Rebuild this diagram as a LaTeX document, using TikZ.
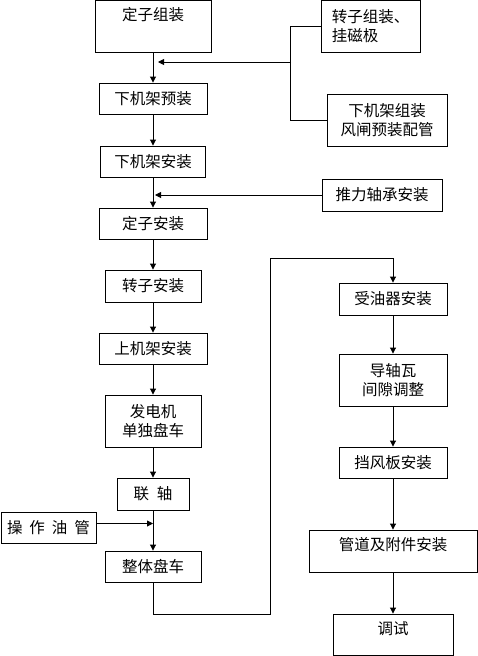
\documentclass[tikz,border=0pt]{standalone}
\usepackage{fontspec}
\newfontfamily\cjk{Noto Sans CJK SC}
\usetikzlibrary{arrows.meta,positioning}

\begin{document}
\begin{tikzpicture}[x=1pt,y=-1pt,
  box/.style={draw,line width=0.9pt,inner sep=0pt,align=center,
    font=\cjk\fontsize{15.5}{19}\selectfont},
  link/.style={line width=0.9pt},
  arr/.style={link,-{Triangle[length=6pt,width=6pt]}}]
  \useasboundingbox (0,0) rectangle (477,656);
  % left column
  \node[box,minimum width=116pt,minimum height=52pt,text depth=24pt] (s1) at (153,26) {定子组装};
  \node[box,minimum width=108pt,minimum height=31pt] (p1) at (153,98.5) {下机架预装};
  \node[box,minimum width=105pt,minimum height=31pt] (p2) at (153,161.5) {下机架安装};
  \node[box,minimum width=108pt,minimum height=31pt] (p3) at (153,223.5) {定子安装};
  \node[box,minimum width=96pt,minimum height=32pt] (p4) at (153,286) {转子安装};
  \node[box,minimum width=108pt,minimum height=31pt] (p5) at (153,348.5) {上机架安装};
  \node[box,minimum width=96pt,minimum height=52pt] (p6) at (153,421) {发电机\\单独盘车};
  \node[box,minimum width=72pt,minimum height=32pt] (p7) at (153,494) {联\hspace{0.5em}轴};
  \node[box,minimum width=95pt,minimum height=31pt] (o0) at (48.5,527.5) {操\hspace{0.45em}作\hspace{0.45em}油\hspace{0.45em}管};
  \node[box,minimum width=96pt,minimum height=31pt] (p8) at (153,566.5) {整体盘车};
  % side inputs
  \node[box,align=left,minimum width=99pt,minimum height=52pt] (r0) at (370.5,26) {转子组装、\\挂磁极};
  \node[box,minimum width=120pt,minimum height=52pt] (f0) at (387,120) {下机架组装\\风闸预装配管};
  \node[box,minimum width=120pt,minimum height=32pt] (t0) at (382,195) {推力轴承安装};
  % right column
  \node[box,minimum width=108pt,minimum height=32pt] (q1) at (393,299) {受油器安装};
  \node[box,minimum width=108pt,minimum height=52pt] (q2) at (393,380) {导轴瓦\\间隙调整};
  \node[box,minimum width=108pt,minimum height=31pt] (q3) at (393,462.5) {挡风板安装};
  \node[box,minimum width=168pt,minimum height=42pt,text depth=13.8pt] (q4) at (393,551) {管道及附件安装};
  \node[box,minimum width=120pt,minimum height=41pt,text depth=13.8pt] (q5) at (393,634.5) {调试};

  \foreach \a/\b in {s1/p1,p1/p2,p2/p3,p3/p4,p4/p5,p5/p6,p6/p7,p7/p8,
                     q1/q2,q2/q3,q3/q4,q4/q5}
    \draw[arr] (\a) -- (\b);

  \draw[link] (r0.west) -- ++(-30,0) |- (f0.west);
  \coordinate (j1) at (291,62);
  \draw[arr,shorten >=5pt] (j1) -- (j1 -| s1.south);
  \draw[arr,shorten >=2pt] (t0.west) -- (t0.west -| p2.south);
  \draw[arr] ([yshift=4pt]o0.east) -- ([yshift=4pt]o0.east -| p7.south);
  \coordinate (c1) at (270,258);
  \draw[arr] (p8.south) -- ++(0,32) -| (c1) -| (q1.north);
\end{tikzpicture}
\end{document}
